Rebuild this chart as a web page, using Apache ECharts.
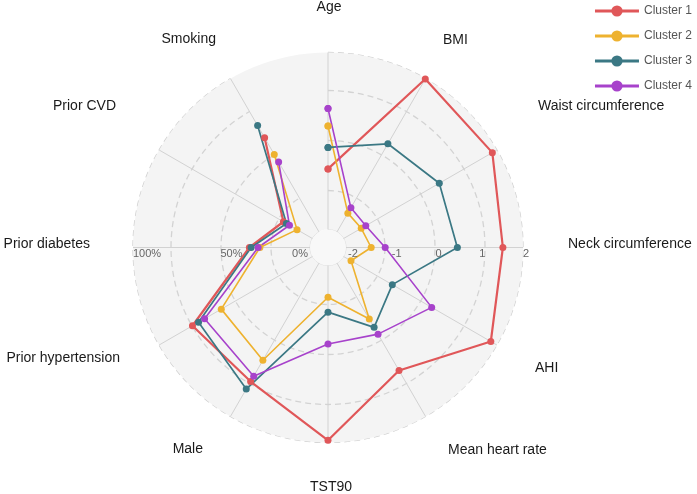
<!DOCTYPE html>
<html><head><meta charset="utf-8">
<script src="https://cdn.jsdelivr.net/npm/echarts@6/dist/echarts.min.js"></script>
<style>html,body{margin:0;padding:0;background:#fff}#c{width:697px;height:494px}</style>
</head><body><div id="c"></div>
<script>
// ---- data ----
const categories = ['Age','BMI','Waist circumference','Neck circumference','AHI','Mean heart rate','TST90',
                    'Male','Prior hypertension','Prior diabetes','Prior CVD','Smoking'];
// continuous variables (z-scores): Age, BMI, Waist, Neck, AHI, Mean heart rate, TST90
const cluster1Z = [-0.66, 1.99, 1.88, 1.54, 1.84, 0.79, 1.95];
const cluster2Z = [0.32, -1.55, -1.58, -1.47, -1.85, -0.57, -1.32];
const cluster3Z = [-0.17, 0.28, 0.48, 0.50, -0.76, -0.35, -0.98];
const cluster4Z = [0.72, -1.41, -1.46, -1.15, 0.28, -0.17, -0.25];
// binary variables (%): Male, Prior hypertension, Prior diabetes, Prior CVD, Smoking
const cluster1Pct = [77, 78, 33.5, 18, 61];
const cluster2Pct = [63, 59, 27.5, 9, 50];
const cluster3Pct = [82, 74, 32.5, 16, 69];
const cluster4Pct = [73.5, 70, 28.5, 14, 45];
const seriesNames = ['Cluster 1','Cluster 2','Cluster 3','Cluster 4'];
const zTicks = [-2, -1, 0, 1, 2];
const pctTicks = [0, 50, 100];

// ---- layout / style ----
const colors = ['#e05759', '#eeb22f', '#3b7884', '#a742cb'];
const widths = [2.2, 1.6, 1.7, 1.6];
const CX = 328, CY = 247.5, R_IN = 20, R_OUT = 195;
const FONT = '"Liberation Sans", Arial, sans-serif';
// [x, y, align]
const labelLayout = [[329,7,'center'],[443,40,'left'],[538,106,'left'],[568,244,'left'],[535,368,'left'],
                     [448,450,'left'],[331,487,'center'],[203,449,'right'],[120,358,'right'],[90,244,'right'],
                     [116,106,'right'],[216,39,'right']];

// percentages share the -2..2 radial scale (0% -> -2, 100% -> 2)
const pctToScale = p => -2 + 4 * p / 100;
function buildData(z, pct) {
  const vals = z.concat(pct.map(pctToScale));
  const d = vals.map((v, i) => [v, i]);
  d.push([vals[0], 0]);
  return d;
}
const allZ = [cluster1Z, cluster2Z, cluster3Z, cluster4Z];
const allPct = [cluster1Pct, cluster2Pct, cluster3Pct, cluster4Pct];
const radOf = v => R_IN + (v + 2) / 4 * (R_OUT - R_IN);

const hiddenAngle = (pi) => ({polarIndex: pi, type: 'category', data: categories, startAngle: 90, boundaryGap: false,
  axisLine: {show: false}, axisTick: {show: false}, axisLabel: {show: false}, splitLine: {show: false}});

const graphics = [];
categories.forEach((c, i) => {
  const L = labelLayout[i];
  graphics.push({type: 'text', x: L[0], y: L[1], silent: true, z: 100,
    style: {text: c, font: '14px ' + FONT, fill: '#1a1a1a', textAlign: L[2], verticalAlign: 'middle'}});
});
zTicks.forEach(v => {
  graphics.push({type: 'text', x: CX + radOf(v), y: CY + 6, silent: true, z: 100,
    style: {text: String(v), font: '11px ' + FONT, fill: '#666', textAlign: 'left', verticalAlign: 'middle'}});
});
pctTicks.forEach(p => {
  graphics.push({type: 'text', x: CX - radOf(pctToScale(p)), y: CY + 6, silent: true, z: 100,
    style: {text: p + '%', font: '11px ' + FONT, fill: '#666', textAlign: p === 0 ? 'right' : 'left', verticalAlign: 'middle'}});
});

const option = {
  animation: false,
  backgroundColor: '#fff',
  legend: {
    orient: 'vertical', right: 0, top: 0, itemWidth: 44, itemHeight: 14, itemGap: 13,
    textStyle: {fontSize: 12, color: '#555', fontFamily: FONT},
    lineStyle: {width: 3},
    data: seriesNames
  },
  polar: [
    {center: [CX, CY], radius: [18, R_OUT]},   // background + spokes + outer ring
    {center: [CX, CY], radius: [57, 157]},     // inner dashed rings
    {center: [CX, CY], radius: [0, 18]},       // center hole
    {center: [CX, CY], radius: [R_IN, R_OUT]}  // data
  ],
  angleAxis: [
    {polarIndex: 0, type: 'category', data: categories, startAngle: 90, boundaryGap: false,
     axisLine: {show: false}, axisTick: {show: false}, axisLabel: {show: false},
     splitLine: {show: true, lineStyle: {color: '#d2d2d2', width: 1}}},
    hiddenAngle(1), hiddenAngle(2), hiddenAngle(3)
  ],
  radiusAxis: [
    {polarIndex: 0, min: 0, max: 1, interval: 1, axisLine: {show: false}, axisTick: {show: false}, axisLabel: {show: false},
     splitLine: {show: true, lineStyle: {color: ['rgba(0,0,0,0)', '#d0d0d0'], type: [6, 4], width: 1.3}},
     splitArea: {show: true, areaStyle: {color: ['#f4f4f4']}}},
    {polarIndex: 1, min: -1, max: 1, interval: 1, axisLine: {show: false}, axisTick: {show: false}, axisLabel: {show: false},
     splitLine: {show: true, lineStyle: {color: '#d3d3d3', type: [6, 4], width: 1.3}}},
    {polarIndex: 2, min: 0, max: 1, interval: 1, axisLine: {show: false}, axisTick: {show: false}, axisLabel: {show: false},
     splitLine: {show: true, lineStyle: {color: ['rgba(0,0,0,0)', '#dcdcdc'], width: 1}},
     splitArea: {show: true, areaStyle: {color: ['#f8f8f8']}}},
    {polarIndex: 3, min: -2, max: 2, axisLine: {show: false}, axisTick: {show: false}, axisLabel: {show: false},
     splitLine: {show: false}}
  ],
  series: seriesNames.map((n, k) => ({
    name: n, type: 'line', coordinateSystem: 'polar', polarIndex: 3,
    data: buildData(allZ[k], allPct[k]),
    symbol: 'circle', symbolSize: 7, showAllSymbol: true,
    lineStyle: {width: widths[k], color: colors[k]},
    itemStyle: {color: colors[k]},
    emphasis: {disabled: true}
  })),
  graphic: graphics
};
const chart = echarts.init(document.getElementById('c'));
chart.setOption(option);
</script>
</body></html>
